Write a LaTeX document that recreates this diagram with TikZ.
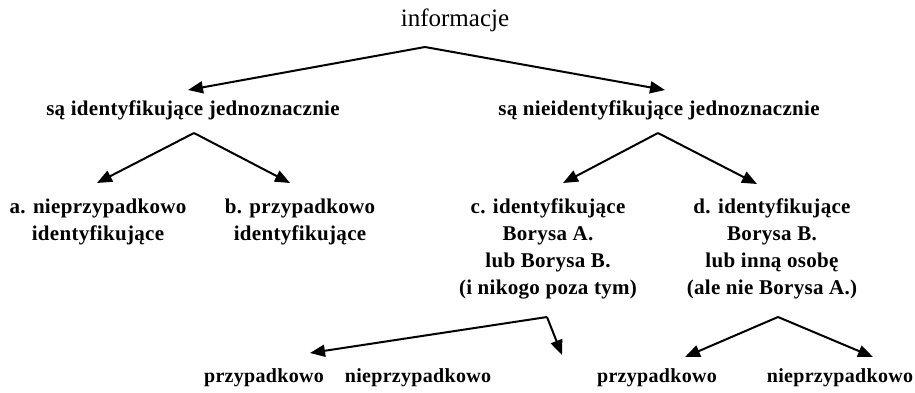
\documentclass[tikz,border=0pt]{standalone}
\usepackage{fontspec}
\setmainfont{Liberation Serif}
\newfontfamily\lblfont{Liberation Serif}[LetterSpace=1.5]
\usetikzlibrary{arrows.meta}
\begin{document}
\begin{tikzpicture}[x=1pt,y=-1pt,
  conn/.style={line width=2pt,-{Triangle[length=15pt,width=12pt]}},
  toplbl/.style={inner sep=0pt,font=\fontsize{25}{28}\selectfont},
  lbl/.style={inner sep=0pt,align=center,font=\lblfont\bfseries\fontsize{21}{26.7}\selectfont},
  botlbl/.style={inner sep=0pt,font=\lblfont\bfseries\fontsize{20}{26}\selectfont}]
\useasboundingbox (0,0) rectangle (915,392);
\node[toplbl] (info) at (455,20) {informacje};
\node[lbl] (ident) at (193,110) {są identyfikujące jednoznacznie};
\node[lbl] (nieid) at (659,110) {są nieidentyfikujące jednoznacznie};
\node[lbl,anchor=north] (a) at (98,199) {a. nieprzypadkowo\\identyfikujące};
\node[lbl,anchor=north] (b) at (300,199) {b. przypadkowo\\identyfikujące};
\node[lbl,anchor=north] (c) at (548,199) {c. identyfikujące\\Borysa A.\\lub Borysa B.\\(i nikogo poza tym)};
\node[lbl,anchor=north] (d) at (772,199) {d. identyfikujące\\Borysa B.\\lub inną osobę\\(ale nie Borysa A.)};
\node[botlbl] (cp) at (264,378) {przypadkowo};
\node[botlbl] (cn) at (418,378) {nieprzypadkowo};
\node[botlbl] (dp) at (657,378) {przypadkowo};
\node[botlbl] (dn) at (840,378) {nieprzypadkowo};
\coordinate (infoA) at (425,47);
\coordinate (identA) at (194,133);
\coordinate (nieidA) at (658,133);
\coordinate (cA) at (547,317);
\coordinate (dA) at (778,317);
\coordinate (identT) at (188,90);
\coordinate (nieidT) at (665,90);
\coordinate (aT) at (97,183);
\coordinate (bT) at (290,183);
\coordinate (cT) at (563,183);
\coordinate (dT) at (757,184);
\coordinate (cpT) at (310,353);
\coordinate (cnT) at (562,355);
\coordinate (dpT) at (685,357);
\coordinate (dnT) at (873,357);
\draw[conn] (infoA) -- (identT);
\draw[conn] (infoA) -- (nieidT);
\draw[conn] (identA) -- (aT);
\draw[conn] (identA) -- (bT);
\draw[conn] (nieidA) -- (cT);
\draw[conn] (nieidA) -- (dT);
\draw[conn] (cA) -- (cpT);
\draw[conn] (cA) -- (cnT);
\draw[conn] (dA) -- (dpT);
\draw[conn] (dA) -- (dnT);
\end{tikzpicture}
\end{document}
